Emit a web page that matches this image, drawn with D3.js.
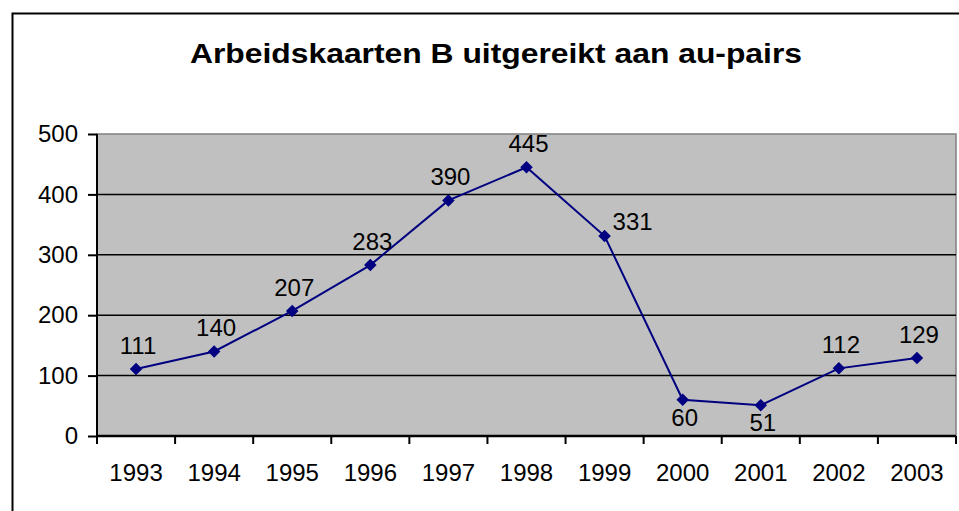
<!DOCTYPE html>
<html>
<head>
<meta charset="utf-8">
<script src="https://cdn.jsdelivr.net/npm/d3@7"></script>
<style>
  body { margin: 0; background: #fff; }
  svg { display: block; font-family: Arial, "Liberation Sans", sans-serif; }
</style>
</head>
<body>
<div id="chart"></div>
<script>
// data
const years = ["1993", "1994", "1995", "1996", "1997", "1998", "1999", "2000", "2001", "2002", "2003"];
const values = [111, 140, 207, 283, 390, 445, 331, 60, 51, 112, 129];
const yTicks = [0, 100, 200, 300, 400, 500];
// where each value label sits relative to its point
const labelPos = ["above", "above", "above", "above", "above", "above", "right", "below", "below", "above", "above"];

const W = 959, H = 511;
const margin = {top: 134, right: 3, bottom: 75, left: 97};
const width = W - margin.left - margin.right;
const height = H - margin.top - margin.bottom;

const svg = d3.select("#chart").append("svg")
    .attr("width", W)
    .attr("height", H);

// outer chart frame (runs off the right/bottom edge)
svg.append("rect")
    .attr("x", 12.5).attr("y", 13.5)
    .attr("width", W + 20).attr("height", H + 20)
    .attr("fill", "#fff")
    .attr("stroke", "#000")
    .attr("stroke-width", 2);

svg.append("text")
    .attr("x", 496).attr("y", 63)
    .attr("text-anchor", "middle")
    .attr("font-size", 28.5)
    .attr("font-weight", "bold")
    .attr("textLength", 612)
    .attr("lengthAdjust", "spacingAndGlyphs")
    .text("Arbeidskaarten B uitgereikt aan au-pairs");

const g = svg.append("g")
    .attr("transform", "translate(" + margin.left + "," + margin.top + ")");

const x = d3.scaleBand()
    .domain(years)
    .range([0, width]);
const y = d3.scaleLinear()
    .domain([0, 500])
    .range([height, 0]);

// plot area
g.append("rect")
    .attr("width", width).attr("height", height)
    .attr("fill", "#c0c0c0")
    .attr("stroke", "#808080")
    .attr("stroke-width", 1.5);

// gridlines
g.selectAll(".grid")
    .data(yTicks.filter(d => d > 0 && d < 500))
    .enter().append("line")
    .attr("x1", 0).attr("x2", width)
    .attr("y1", d => y(d)).attr("y2", d => y(d))
    .attr("stroke", "#000")
    .attr("stroke-width", 1.5);

// y axis
const yAxis = g.append("g")
    .call(d3.axisLeft(y).tickValues(yTicks).tickSize(9).tickPadding(10));
yAxis.select(".domain").attr("stroke-width", 2).attr("d", "M0," + height + "V0");
yAxis.selectAll(".tick line").attr("stroke-width", 2);
yAxis.selectAll("text").attr("font-size", 24).attr("fill", "#000").attr("font-family", null);

// x axis, ticks between categories
const xAxis = g.append("g")
    .attr("transform", "translate(0," + height + ")")
    .call(d3.axisBottom(x).tickSize(0).tickPadding(28));
xAxis.select(".domain").attr("stroke-width", 2.5).attr("d", "M0,0H" + width);
xAxis.selectAll("text").attr("font-size", 24).attr("fill", "#000").attr("font-family", null);
xAxis.selectAll(".sep")
    .data(years.map(d => x(d)).concat([width]))
    .enter().append("line")
    .attr("x1", d => d).attr("x2", d => d)
    .attr("y1", 0).attr("y2", 8)
    .attr("stroke", "#000")
    .attr("stroke-width", 2);

// line
const line = d3.line()
    .x((d, i) => x(years[i]) + x.bandwidth() / 2)
    .y(d => y(d));

g.append("path")
    .datum(values)
    .attr("d", line)
    .attr("fill", "none")
    .attr("stroke", "#000080")
    .attr("stroke-width", 2);

g.selectAll(".marker")
    .data(values)
    .enter().append("path")
    .attr("d", d3.symbol().type(d3.symbolDiamond2).size(100))
    .attr("transform", (d, i) => "translate(" + (x(years[i]) + x.bandwidth() / 2) + "," + y(d) + ")")
    .attr("fill", "#000080");

// value labels
g.selectAll(".lbl")
    .data(values)
    .enter().append("text")
    .attr("x", (d, i) => {
      const cx = x(years[i]) + x.bandwidth() / 2;
      return labelPos[i] === "right" ? cx + 8 : cx + 2;
    })
    .attr("y", (d, i) => {
      const cy = y(d);
      if (labelPos[i] === "right") return cy - 6;
      if (labelPos[i] === "below") return cy + 26;
      return cy - 15;
    })
    .attr("text-anchor", (d, i) => labelPos[i] === "right" ? "start" : "middle")
    .attr("font-size", 24)
    .text(d => d);
</script>
</body>
</html>
